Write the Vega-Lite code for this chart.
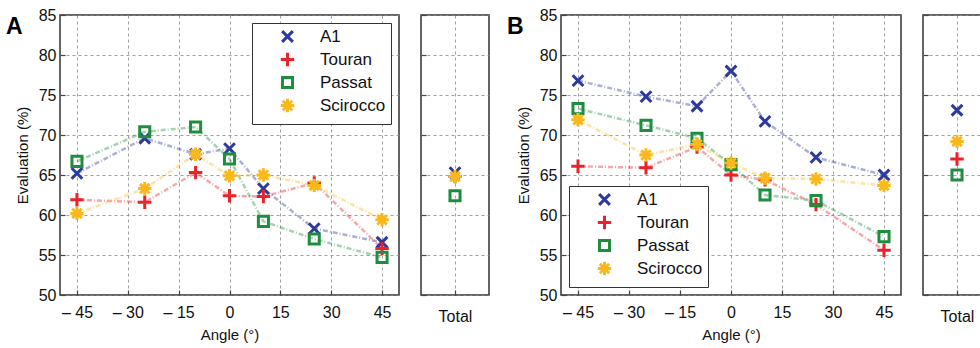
{
  "$schema": "https://vega.github.io/schema/vega-lite/v6.json",
  "padding": {"left": 5, "top": 6, "right": 0, "bottom": 0},
  "datasets": {
    "main": [
      {"panel": "A", "series": "A1", "angle": -45, "value": 65.2},
      {"panel": "A", "series": "A1", "angle": -25, "value": 69.6},
      {"panel": "A", "series": "A1", "angle": -10, "value": 67.6},
      {"panel": "A", "series": "A1", "angle": 0, "value": 68.3},
      {"panel": "A", "series": "A1", "angle": 10, "value": 63.3},
      {"panel": "A", "series": "A1", "angle": 25, "value": 58.3},
      {"panel": "A", "series": "A1", "angle": 45, "value": 56.6},
      {"panel": "A", "series": "Touran", "angle": -45, "value": 61.9},
      {"panel": "A", "series": "Touran", "angle": -25, "value": 61.6},
      {"panel": "A", "series": "Touran", "angle": -10, "value": 65.3},
      {"panel": "A", "series": "Touran", "angle": 0, "value": 62.4},
      {"panel": "A", "series": "Touran", "angle": 10, "value": 62.3},
      {"panel": "A", "series": "Touran", "angle": 25, "value": 64.0},
      {"panel": "A", "series": "Touran", "angle": 45, "value": 55.8},
      {"panel": "A", "series": "Passat", "angle": -45, "value": 66.7},
      {"panel": "A", "series": "Passat", "angle": -25, "value": 70.4},
      {"panel": "A", "series": "Passat", "angle": -10, "value": 71.0},
      {"panel": "A", "series": "Passat", "angle": 0, "value": 67.0},
      {"panel": "A", "series": "Passat", "angle": 10, "value": 59.2},
      {"panel": "A", "series": "Passat", "angle": 25, "value": 57.0},
      {"panel": "A", "series": "Passat", "angle": 45, "value": 54.7},
      {"panel": "A", "series": "Scirocco", "angle": -45, "value": 60.2},
      {"panel": "A", "series": "Scirocco", "angle": -25, "value": 63.3},
      {"panel": "A", "series": "Scirocco", "angle": -10, "value": 67.6},
      {"panel": "A", "series": "Scirocco", "angle": 0, "value": 64.9},
      {"panel": "A", "series": "Scirocco", "angle": 10, "value": 65.0},
      {"panel": "A", "series": "Scirocco", "angle": 25, "value": 63.7},
      {"panel": "A", "series": "Scirocco", "angle": 45, "value": 59.4},
      {"panel": "B", "series": "A1", "angle": -45, "value": 76.8},
      {"panel": "B", "series": "A1", "angle": -25, "value": 74.8},
      {"panel": "B", "series": "A1", "angle": -10, "value": 73.6},
      {"panel": "B", "series": "A1", "angle": 0, "value": 78.0},
      {"panel": "B", "series": "A1", "angle": 10, "value": 71.7},
      {"panel": "B", "series": "A1", "angle": 25, "value": 67.2},
      {"panel": "B", "series": "A1", "angle": 45, "value": 65.0},
      {"panel": "B", "series": "Touran", "angle": -45, "value": 66.1},
      {"panel": "B", "series": "Touran", "angle": -25, "value": 65.9},
      {"panel": "B", "series": "Touran", "angle": -10, "value": 68.5},
      {"panel": "B", "series": "Touran", "angle": 0, "value": 65.0},
      {"panel": "B", "series": "Touran", "angle": 10, "value": 64.4},
      {"panel": "B", "series": "Touran", "angle": 25, "value": 61.3},
      {"panel": "B", "series": "Touran", "angle": 45, "value": 55.6},
      {"panel": "B", "series": "Passat", "angle": -45, "value": 73.3},
      {"panel": "B", "series": "Passat", "angle": -25, "value": 71.2},
      {"panel": "B", "series": "Passat", "angle": -10, "value": 69.6},
      {"panel": "B", "series": "Passat", "angle": 0, "value": 66.3},
      {"panel": "B", "series": "Passat", "angle": 10, "value": 62.5},
      {"panel": "B", "series": "Passat", "angle": 25, "value": 61.8},
      {"panel": "B", "series": "Passat", "angle": 45, "value": 57.3},
      {"panel": "B", "series": "Scirocco", "angle": -45, "value": 71.9},
      {"panel": "B", "series": "Scirocco", "angle": -25, "value": 67.5},
      {"panel": "B", "series": "Scirocco", "angle": -10, "value": 68.8},
      {"panel": "B", "series": "Scirocco", "angle": 0, "value": 66.5},
      {"panel": "B", "series": "Scirocco", "angle": 10, "value": 64.6},
      {"panel": "B", "series": "Scirocco", "angle": 25, "value": 64.5},
      {"panel": "B", "series": "Scirocco", "angle": 45, "value": 63.7}
    ],
    "total": [
      {"panel": "A", "series": "A1", "cat": "Total", "value": 65.3},
      {"panel": "A", "series": "Touran", "cat": "Total", "value": 64.8},
      {"panel": "A", "series": "Passat", "cat": "Total", "value": 62.4},
      {"panel": "A", "series": "Scirocco", "cat": "Total", "value": 64.8},
      {"panel": "B", "series": "A1", "cat": "Total", "value": 73.1},
      {"panel": "B", "series": "Touran", "cat": "Total", "value": 67.0},
      {"panel": "B", "series": "Passat", "cat": "Total", "value": 65.0},
      {"panel": "B", "series": "Scirocco", "cat": "Total", "value": 69.2}
    ]
  },
  "hconcat": [
    {
      "hconcat": [
        {
          "title": {"text": "A", "anchor": "start", "frame": "group", "dx": -54, "dy": 32, "fontSize": 23, "fontWeight": "bold", "offset": 0},
          "width": 339, "height": 280,
          "data": {"name": "main"},
          "transform": [{"filter": "datum.panel === 'A'"}],
          "encoding": {
            "x": {"field": "angle", "type": "quantitative", "scale": {"domain": [-50, 50], "nice": false}, "title": "Angle (°)",
                  "axis": {"values": [-45, -30, -15, 0, 15, 30, 45], "labelExpr": "datum.value < 0 ? '– ' + abs(datum.value) : datum.label"}},
            "y": {"field": "value", "type": "quantitative", "scale": {"domain": [50, 85], "nice": false, "zero": false}, "title": "Evaluation (%)",
                  "axis": {"values": [50, 55, 60, 65, 70, 75, 80, 85]}},
            "color": {"field": "series", "type": "nominal", "sort": ["A1", "Touran", "Passat", "Scirocco"],
                      "scale": {"domain": ["A1", "Touran", "Passat", "Scirocco"], "range": ["#2b3a9c", "#e8232a", "#1e8e3e", "#f9b81b"]},
                      "legend": {"orient": "top-right", "offset": 8}}
          },
          "layer": [
            {"mark": {"type": "line", "strokeWidth": 2.5, "opacity": 0.4, "strokeDash": [5, 2, 1, 2]}},
            {"mark": {"type": "point", "filled": false, "strokeWidth": 3, "size": 180, "opacity": 1},
             "encoding": {"shape": {"field": "series", "type": "nominal", "sort": ["A1", "Touran", "Passat", "Scirocco"],
               "scale": {"domain": ["A1", "Touran", "Passat", "Scirocco"], "range": ["M-0.8,-0.8L0.8,0.8M-0.8,0.8L0.8,-0.8", "M-1,0L1,0M0,-1L0,1", "M-0.75,-0.75L0.75,-0.75L0.75,0.75L-0.75,0.75Z", "M-1,0L1,0M0,-1L0,1M-0.7,-0.7L0.7,0.7M-0.7,0.7L0.7,-0.7"]},
               "legend": {"orient": "top-right", "offset": 8}}}}
          ]
        },
        {
          "width": 68, "height": 280,
          "data": {"name": "total"},
          "transform": [{"filter": "datum.panel === 'A'"}],
          "mark": {"type": "point", "filled": false, "strokeWidth": 3, "size": 180, "opacity": 1},
          "encoding": {
            "x": {"field": "cat", "type": "nominal", "scale": {"type": "point"}, "title": null, "axis": {"labelAngle": 0, "labelPadding": 18}},
            "y": {"field": "value", "type": "quantitative", "scale": {"domain": [50, 85], "nice": false, "zero": false}, "title": null,
                  "axis": {"values": [50, 55, 60, 65, 70, 75, 80, 85], "labels": false}},
            "color": {"field": "series", "type": "nominal", "scale": {"domain": ["A1", "Touran", "Passat", "Scirocco"], "range": ["#2b3a9c", "#e8232a", "#1e8e3e", "#f9b81b"]}, "legend": null},
            "shape": {"field": "series", "type": "nominal",
               "scale": {"domain": ["A1", "Touran", "Passat", "Scirocco"], "range": ["M-0.8,-0.8L0.8,0.8M-0.8,0.8L0.8,-0.8", "M-1,0L1,0M0,-1L0,1", "M-0.75,-0.75L0.75,-0.75L0.75,0.75L-0.75,0.75Z", "M-1,0L1,0M0,-1L0,1M-0.7,-0.7L0.7,0.7M-0.7,0.7L0.7,-0.7"]}, "legend": null}
          }
        }
      ],
      "spacing": 19,
      "resolve": {"scale": {"color": "independent", "shape": "independent"}, "legend": {"color": "independent", "shape": "independent"}}
    },
    {
      "hconcat": [
        {
          "title": {"text": "B", "anchor": "start", "frame": "group", "dx": -54, "dy": 32, "fontSize": 23, "fontWeight": "bold", "offset": 0},
          "width": 340, "height": 280,
          "data": {"name": "main"},
          "transform": [{"filter": "datum.panel === 'B'"}],
          "encoding": {
            "x": {"field": "angle", "type": "quantitative", "scale": {"domain": [-50, 50], "nice": false}, "title": "Angle (°)",
                  "axis": {"values": [-45, -30, -15, 0, 15, 30, 45], "labelExpr": "datum.value < 0 ? '– ' + abs(datum.value) : datum.label"}},
            "y": {"field": "value", "type": "quantitative", "scale": {"domain": [50, 85], "nice": false, "zero": false}, "title": "Evaluation (%)",
                  "axis": {"values": [50, 55, 60, 65, 70, 75, 80, 85]}},
            "color": {"field": "series", "type": "nominal", "sort": ["A1", "Touran", "Passat", "Scirocco"],
                      "scale": {"domain": ["A1", "Touran", "Passat", "Scirocco"], "range": ["#2b3a9c", "#e8232a", "#1e8e3e", "#f9b81b"]},
                      "legend": {"orient": "bottom-left", "offset": 8}}
          },
          "layer": [
            {"mark": {"type": "line", "strokeWidth": 2.5, "opacity": 0.4, "strokeDash": [5, 2, 1, 2]}},
            {"mark": {"type": "point", "filled": false, "strokeWidth": 3, "size": 180, "opacity": 1},
             "encoding": {"shape": {"field": "series", "type": "nominal", "sort": ["A1", "Touran", "Passat", "Scirocco"],
               "scale": {"domain": ["A1", "Touran", "Passat", "Scirocco"], "range": ["M-0.8,-0.8L0.8,0.8M-0.8,0.8L0.8,-0.8", "M-1,0L1,0M0,-1L0,1", "M-0.75,-0.75L0.75,-0.75L0.75,0.75L-0.75,0.75Z", "M-1,0L1,0M0,-1L0,1M-0.7,-0.7L0.7,0.7M-0.7,0.7L0.7,-0.7"]},
               "legend": {"orient": "bottom-left", "offset": 8}}}}
          ]
        },
        {
          "width": 68, "height": 280,
          "data": {"name": "total"},
          "transform": [{"filter": "datum.panel === 'B'"}],
          "mark": {"type": "point", "filled": false, "strokeWidth": 3, "size": 180, "opacity": 1},
          "encoding": {
            "x": {"field": "cat", "type": "nominal", "scale": {"type": "point"}, "title": null, "axis": {"labelAngle": 0, "labelPadding": 18}},
            "y": {"field": "value", "type": "quantitative", "scale": {"domain": [50, 85], "nice": false, "zero": false}, "title": null,
                  "axis": {"values": [50, 55, 60, 65, 70, 75, 80, 85], "labels": false}},
            "color": {"field": "series", "type": "nominal", "scale": {"domain": ["A1", "Touran", "Passat", "Scirocco"], "range": ["#2b3a9c", "#e8232a", "#1e8e3e", "#f9b81b"]}, "legend": null},
            "shape": {"field": "series", "type": "nominal",
               "scale": {"domain": ["A1", "Touran", "Passat", "Scirocco"], "range": ["M-0.8,-0.8L0.8,0.8M-0.8,0.8L0.8,-0.8", "M-1,0L1,0M0,-1L0,1", "M-0.75,-0.75L0.75,-0.75L0.75,0.75L-0.75,0.75Z", "M-1,0L1,0M0,-1L0,1M-0.7,-0.7L0.7,0.7M-0.7,0.7L0.7,-0.7"]}, "legend": null}
          }
        }
      ],
      "spacing": 19,
      "resolve": {"scale": {"color": "independent", "shape": "independent"}, "legend": {"color": "independent", "shape": "independent"}}
    }
  ],
  "spacing": 16,
  "resolve": {"scale": {"color": "independent", "shape": "independent"}, "legend": {"color": "independent", "shape": "independent"}},
  "config": {
    "font": "Liberation Sans",
    "view": {"stroke": "#333", "strokeWidth": 1.5},
    "title": {"color": "#000"},
    "axis": {
      "labelFontSize": 16, "labelColor": "#111", "titleFontSize": 15, "titleFontWeight": "normal", "titleColor": "#111",
      "grid": true, "gridDash": [3, 3], "gridColor": "#888", "gridOpacity": 0.8, "gridWidth": 1,
      "domain": false, "tickColor": "#444", "tickSize": -5, "tickWidth": 1.2
    },
    "axisY": {"labelPadding": 9, "titlePadding": 8},
    "axisX": {"labelPadding": 14, "titlePadding": 7},
    "legend": {
      "labelFontSize": 17, "labelColor": "#111", "fillColor": "white", "strokeColor": "#333", "padding": 5,
      "symbolStrokeWidth": 3, "symbolSize": 180, "symbolOpacity": 1, "symbolOffset": 22, "labelOffset": 24, "rowPadding": -2, "title": null
    }
  }
}
